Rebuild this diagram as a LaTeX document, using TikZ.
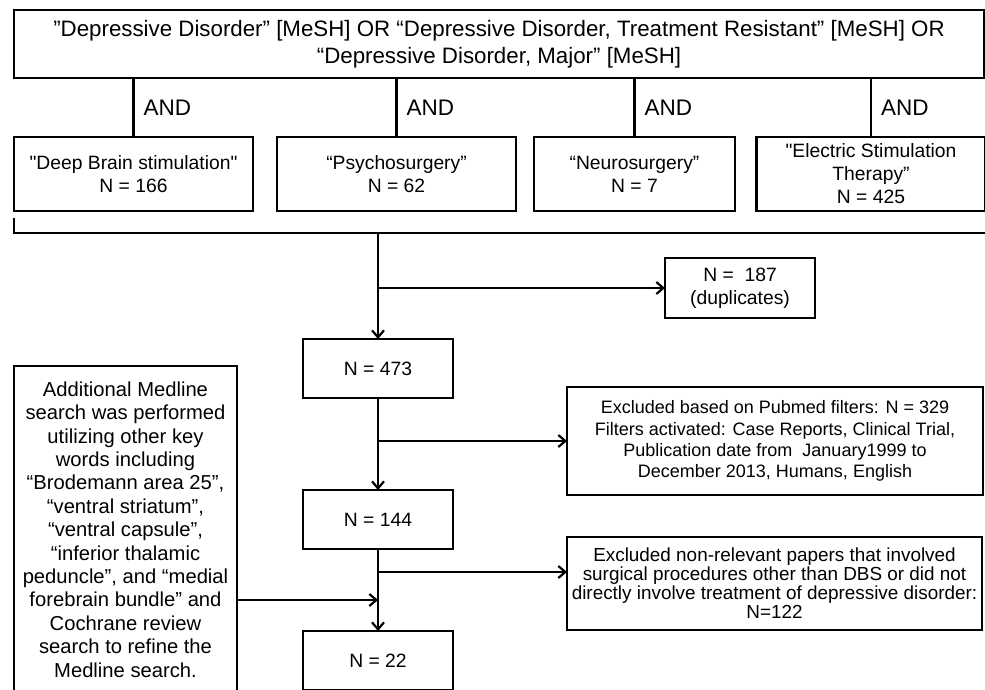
\documentclass[tikz,border=0pt]{standalone}
\usepackage{fontspec}
\setmainfont{Liberation Sans}[Ligatures = TeXOff]
\usetikzlibrary{arrows.meta}

\begin{document}
\begin{tikzpicture}[
    x = 1pt, y = -1pt,
    line width = 2.2pt,
    outer sep = 0mm, inner sep = 0mm,
    box/.style = {
      rectangle, draw = black, fill = white, align = center,
    },
    big/.style = {font = \fontsize{22.3}{27.5}\selectfont},
    mid/.style = {font = \fontsize{19.3}{23}\selectfont},
    small/.style = {font = \fontsize{18}{21.3}\selectfont},
    arr/.style = {-{Straight Barb[length = 7pt, width = 12pt]}},
  ]
  \useasboundingbox (0,0) rectangle (985,689);

  \node[box, big, minimum width = 970, minimum height = 68] (query) at (499,44)
    {”Depressive Disorder” [MeSH] OR “Depressive Disorder, Treatment Resistant” [MeSH] OR\\
     “Depressive Disorder, Major” [MeSH]};

  \node[box, mid, minimum width = 239, minimum height = 74] (dbs) at (133.5,174)
    {"Deep Brain stimulation"\\N = 166};
  \node[box, mid, minimum width = 239, minimum height = 74] (psy) at (396.5,174)
    {“Psychosurgery”\\N = 62};
  \node[box, mid, minimum width = 201, minimum height = 74] (neuro) at (634.5,174)
    {“Neurosurgery”\\N = 7};
  \node[box, mid, minimum width = 229, minimum height = 74] (elec) at (871,174)
    {"Electric Stimulation\\Therapy”\\N = 425};

  \foreach \b in {dbs, psy, neuro, elec}
    \draw (\b.north) -- (\b.north |- query.south)
      node[midway, right, xshift = 10pt, font = \fontsize{22.5}{24}\selectfont] {AND};

  % merge bar under the four searches
  \coordinate (bar) at (378,233);
  \draw (bar -| dbs.west) ++(0,-15) -- (bar -| dbs.west) -- ++(975,0);

  \node[box, mid, minimum width = 150, minimum height = 60] (dup) at (740,288)
    {N =~ 187\\(duplicates)};
  \node[box, mid, minimum width = 150, minimum height = 59] (n473) at (378,368.5)
    {N = 473};
  \node[box, small, minimum width = 416, minimum height = 108] (filt) at (775,441)
    {Excluded based on Pubmed filters: N = 329\\
     Filters activated: Case Reports, Clinical Trial,\\
     Publication date from~ January1999 to\\
     December 2013, Humans, English};
  \node[box, mid, minimum width = 150, minimum height = 59] (n144) at (378,519.5)
    {N = 144};
  \node[box, font = \fontsize{18.9}{19}\selectfont, minimum width = 415, minimum height = 93] (irrel) at (774.5,583.5)
    {Excluded non-relevant papers that involved\\
     surgical procedures other than DBS or did not\\
     directly involve treatment of depressive disorder:\\
     N=122};
  \node[box, mid, minimum width = 150, minimum height = 59] (n22) at (378,660.5)
    {N = 22};
  \node[box, font = \fontsize{20.2}{23.4}\selectfont, minimum width = 223, minimum height = 327] (extra) at (125.5,529.5)
    {Additional Medline\\search was performed\\utilizing other key\\words including\\
     “Brodemann area 25”,\\“ventral striatum”,\\“ventral capsule”,\\“inferior thalamic\\
     peduncle”, and “medial\\forebrain bundle” and\\Cochrane review\\search to refine the\\
     Medline search.};

  \draw[arr] (bar) -- (n473);
  \draw[arr] (bar |- dup) -- (dup);
  \draw[arr] (n473) -- (n144);
  \draw[arr] (n473.south |- filt) -- (filt);
  \draw[arr] (n144) -- (n22);

  \coordinate (j2) at (n144.south |- 0,572);
  \draw[arr] (j2) -- (j2 -| irrel.west);
  \coordinate (j3) at (n144.south |- 0,600);
  \draw[arr] (j3 -| extra.east) -- (j3);
\end{tikzpicture}
\end{document}
